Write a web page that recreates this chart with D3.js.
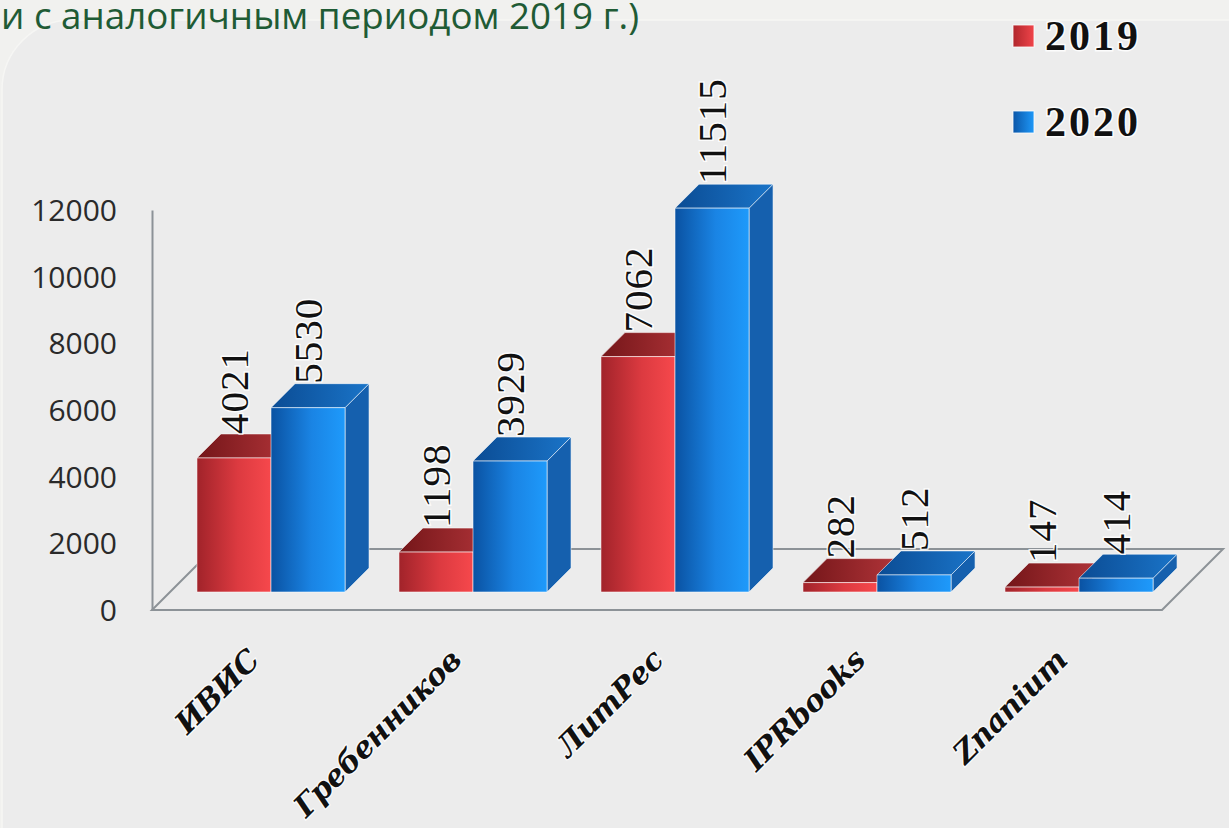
<!DOCTYPE html>
<html><head><meta charset="utf-8">
<script src="https://cdn.jsdelivr.net/npm/d3@7"></script>
<style>
html,body{margin:0;padding:0;background:#f1f1ef;}
svg{display:block;}
</style></head>
<body>
<script>
const categories = ["ИВИС", "Гребенников", "ЛитРес", "IPRbooks", "Znanium"];
const seriesNames = ["2019", "2020"];
const values2019 = [4021, 1198, 7062, 282, 147];
const values2020 = [5530, 3929, 11515, 512, 414];
const yTicks = [0, 2000, 4000, 6000, 8000, 10000, 12000];
const titleText = "и с аналогичным периодом 2019 г.)";

const W = 1229, H = 828;
const svg = d3.select("body").append("svg").attr("width", W).attr("height", H);
const defs = svg.append("defs");

function grad(id, stops, x2 = "100%", y2 = "0%") {
  const g = defs.append("linearGradient").attr("id", id)
    .attr("x1", "0%").attr("y1", "0%").attr("x2", x2).attr("y2", y2);
  stops.forEach(([o, c]) => g.append("stop").attr("offset", o).attr("stop-color", c));
}
grad("redFront", [["0%", "#a1232a"], ["55%", "#dc3a40"], ["100%", "#f6484c"]]);
grad("blueFront", [["0%", "#0a52a2"], ["55%", "#1a84e4"], ["100%", "#1e9afb"]]);
grad("redTop", [["0%", "#741619"], ["100%", "#b3353a"]]);
grad("blueTop", [["0%", "#0b4c94"], ["100%", "#1a74c8"]]);
grad("redLeg", [["0%", "#b0262c"], ["100%", "#f0444a"]]);
grad("blueLeg", [["0%", "#0b56a8"], ["100%", "#1e98f8"]]);

// panel background
svg.append("rect").attr("x", 2).attr("y", 20).attr("width", 1300).attr("height", 880)
  .attr("rx", 70).attr("fill", "#ececec").attr("stroke", "#f6f6f4").attr("stroke-width", 1.5);

// title
svg.append("text").attr("x", 1).attr("y", 29)
  .attr("font-family", "'Open Sans', sans-serif").attr("font-size", 37)
  .attr("fill", "#1f5b35").attr("textLength", 638).attr("lengthAdjust", "spacingAndGlyphs")
  .text(titleText);

// 3D geometry
const DEPTH = 24;           // bar depth offset (px, 45 deg)
const FLOOR_FRONT = 18;     // floor front edge in front of bars
const FLOOR_BACK = 43;      // floor back edge behind bar front plane

const x = d3.scaleBand().domain(categories).range([170, 1180])
  .paddingInner(0.267).paddingOuter(0.1335);
const xs = d3.scaleBand().domain(seriesNames).range([0, x.bandwidth()]);
const y = d3.scaleLinear().domain([0, 12000]).range([592, 192]);
const yFront = d3.scaleLinear().domain([0, 12000]).range([592 + FLOOR_FRONT, 192 + FLOOR_FRONT]);

const x0 = x.range()[0], x1 = x.range()[1], yb = y(0);

// floor outline
const floorPts = [
  [x0 - FLOOR_FRONT, yb + FLOOR_FRONT],
  [x1 - FLOOR_FRONT, yb + FLOOR_FRONT],
  [x1 + FLOOR_BACK, yb - FLOOR_BACK],
  [x0 + FLOOR_BACK, yb - FLOOR_BACK]
];
svg.append("polygon").attr("points", floorPts.map(p => p.join(",")).join(" "))
  .attr("fill", "none").attr("stroke", "#8c9297").attr("stroke-width", 2);

// y axis (front plane)
const yAxis = d3.axisLeft(yFront).tickValues(yTicks).tickSize(0).tickPadding(35)
  .tickFormat(d3.format("d"));
const gAxis = svg.append("g").attr("transform", `translate(${x0 - FLOOR_FRONT},0)`).call(yAxis);
gAxis.select(".domain").attr("stroke", "#8c9297").attr("stroke-width", 2);
gAxis.selectAll("text").attr("font-family", "'Open Sans', sans-serif").attr("font-size", 30)
  .attr("fill", "#2a2a2a").attr("dy", "0.35em");

// bars
const data = categories.map((c, i) => ({ c, v: [values2019[i], values2020[i]] }));
const colors = {
  "2019": { front: "url(#redFront)", top: "url(#redTop)", side: "#8e1d22" },
  "2020": { front: "url(#blueFront)", top: "url(#blueTop)", side: "#1560ae" }
};
const gBars = svg.append("g");
data.forEach(d => {
  seriesNames.forEach((s, si) => {
    const v = d.v[si];
    const bx = x(d.c) + xs(s), bw = xs.bandwidth(), top = y(v);
    const col = colors[s];
    const g = gBars.append("g");
    g.append("polygon").attr("points", [
      [bx + bw, yb], [bx + bw + DEPTH, yb - DEPTH], [bx + bw + DEPTH, top - DEPTH], [bx + bw, top]
    ].map(p => p.join(",")).join(" ")).attr("fill", col.side);
    g.append("polygon").attr("points", [
      [bx, top], [bx + DEPTH, top - DEPTH], [bx + bw + DEPTH, top - DEPTH], [bx + bw, top]
    ].map(p => p.join(",")).join(" ")).attr("fill", col.top);
    g.append("rect").attr("x", bx).attr("y", top).attr("width", bw).attr("height", yb - top)
      .attr("fill", col.front);
    g.selectAll("*").attr("stroke", "rgba(255,255,255,0.55)").attr("stroke-width", 1)
      .attr("stroke-linejoin", "round");
  });
});

// value labels
const gLab = svg.append("g");
data.forEach(d => {
  seriesNames.forEach((s, si) => {
    const v = d.v[si];
    const cx = x(d.c) + xs(s) + xs.bandwidth() / 2;
    gLab.append("text")
      .attr("transform", `translate(${cx},${y(v) - DEPTH}) rotate(-90)`)
      .attr("dy", "0.34em").attr("text-anchor", "start")
      .attr("font-family", "'Liberation Serif', serif").attr("font-size", 41)
      .attr("letter-spacing", 1)
      .attr("fill", "#111").attr("stroke", "rgba(255,255,255,0.85)").attr("stroke-width", 3)
      .attr("paint-order", "stroke")
      .text(v);
  });
});

// category labels
svg.append("g").selectAll("text").data(categories).join("text")
  .attr("transform", d => `translate(${x(d) + x.bandwidth() / 2 - 10},${662}) rotate(-45)`)
  .attr("text-anchor", "end")
  .attr("font-family", "'DejaVu Serif', serif").attr("font-style", "italic").attr("font-weight", "bold")
  .attr("font-size", 30).attr("letter-spacing", -0.5).attr("fill", "#111")
  .attr("stroke", "rgba(255,255,255,0.8)").attr("stroke-width", 2.5).attr("paint-order", "stroke")
  .text(d => d);

// legend
const legY = [36, 122];
const leg = svg.append("g").selectAll("g").data(seriesNames).join("g")
  .attr("transform", (d, i) => `translate(1013,${legY[i]})`);
leg.append("rect").attr("x", 0).attr("y", -11).attr("width", 21).attr("height", 22)
  .attr("fill", (d, i) => i === 0 ? "url(#redLeg)" : "url(#blueLeg)")
  .attr("stroke", "rgba(255,255,255,0.8)").attr("stroke-width", 1);
leg.append("text").attr("x", 32).attr("y", 14)
  .attr("font-family", "'Liberation Serif', serif").attr("font-weight", "bold").attr("font-size", 42)
  .attr("letter-spacing", 3)
  .attr("fill", "#111").attr("stroke", "rgba(255,255,255,0.85)").attr("stroke-width", 3)
  .attr("paint-order", "stroke")
  .text(d => d);
</script>
</body></html>
